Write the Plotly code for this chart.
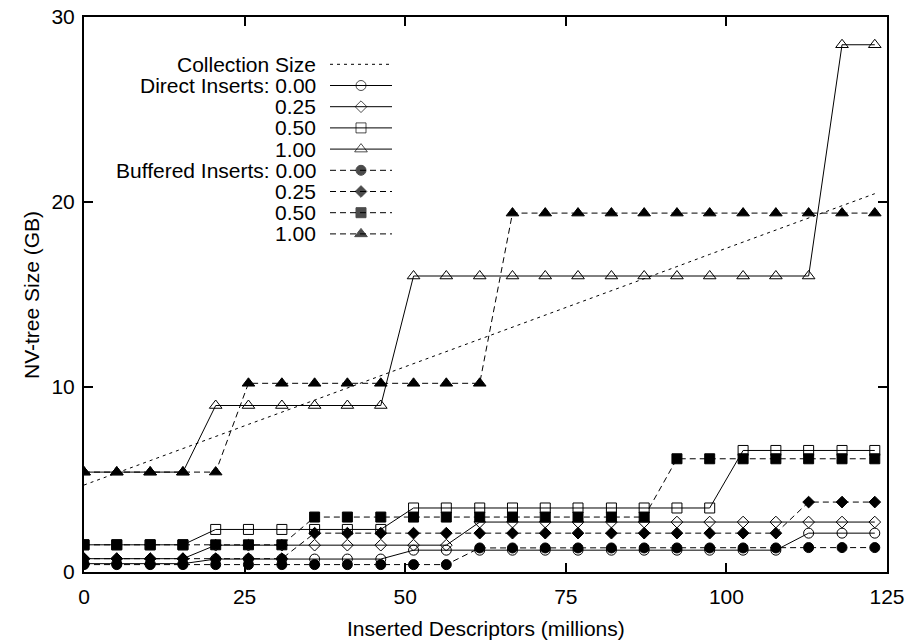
import plotly.graph_objects as go

# ---------------- data ----------------
descriptors_millions = [0, 5.1, 10.3, 15.4, 20.5, 25.6, 30.8, 35.9, 41.0, 46.2, 51.3, 56.4,
                        61.6, 66.7, 71.8, 76.9, 82.1, 87.2, 92.3, 97.4, 102.6, 107.7, 112.8,
                        118.0, 123.1]

collection_size = [4.70, 5.36, 6.01, 6.67, 7.33, 7.98, 8.64, 9.29, 9.95, 10.61, 11.26, 11.92,
                   12.58, 13.23, 13.89, 14.54, 15.20, 15.86, 16.51, 17.17, 17.83, 18.48,
                   19.14, 19.79, 20.45]

direct_000 = [0.45, 0.45, 0.45, 0.45, 0.70, 0.70, 0.70, 0.70, 0.70, 0.70, 1.18, 1.18, 1.18,
              1.18, 1.18, 1.18, 1.18, 1.18, 1.18, 1.18, 1.18, 1.18, 2.10, 2.10, 2.10]
direct_025 = [0.72, 0.72, 0.72, 0.72, 1.45, 1.45, 1.45, 1.45, 1.45, 1.45, 1.45, 1.45, 2.70,
              2.70, 2.70, 2.70, 2.70, 2.70, 2.70, 2.70, 2.70, 2.70, 2.70, 2.70, 2.70]
direct_050 = [1.47, 1.47, 1.47, 1.47, 2.30, 2.30, 2.30, 2.30, 2.30, 2.30, 3.46, 3.46, 3.46,
              3.46, 3.46, 3.46, 3.46, 3.46, 3.46, 3.46, 6.57, 6.57, 6.57, 6.57, 6.57]
direct_100 = [5.40, 5.40, 5.40, 5.40, 9.00, 9.00, 9.00, 9.00, 9.00, 9.00, 16.0, 16.0, 16.0,
              16.0, 16.0, 16.0, 16.0, 16.0, 16.0, 16.0, 16.0, 16.0, 16.0, 28.5, 28.5]

buffered_000 = [0.40, 0.40, 0.40, 0.40, 0.40, 0.40, 0.40, 0.40, 0.40, 0.40, 0.40, 0.40, 1.30,
                1.30, 1.30, 1.30, 1.30, 1.30, 1.30, 1.30, 1.30, 1.30, 1.32, 1.32, 1.32]
buffered_025 = [0.72, 0.72, 0.72, 0.72, 0.72, 0.72, 0.72, 2.10, 2.10, 2.10, 2.10, 2.10, 2.10,
                2.10, 2.10, 2.10, 2.10, 2.10, 2.10, 2.10, 2.10, 2.10, 3.78, 3.78, 3.78]
buffered_050 = [1.47, 1.47, 1.47, 1.47, 1.47, 1.47, 1.47, 2.97, 2.97, 2.97, 2.97, 2.97, 2.97,
                2.97, 2.97, 2.97, 2.97, 2.97, 6.12, 6.12, 6.12, 6.12, 6.12, 6.12, 6.12]
buffered_100 = [5.40, 5.40, 5.40, 5.40, 5.40, 10.2, 10.2, 10.2, 10.2, 10.2, 10.2, 10.2, 10.2,
                19.4, 19.4, 19.4, 19.4, 19.4, 19.4, 19.4, 19.4, 19.4, 19.4, 19.4, 19.4]

x_ticks = [0, 25, 50, 75, 100, 125]
y_ticks = [0, 10, 20, 30]

legend_labels = ["Collection Size", "Direct Inserts: 0.00", "0.25", "0.50", "1.00",
                 "Buffered Inserts: 0.00", "0.25", "0.50", "1.00"]

x_title = "Inserted Descriptors (millions)"
y_title = "NV-tree Size (GB)"

# ---------------- styles ----------------
FONT = "Liberation Sans, Arial, Helvetica, sans-serif"
FS = 21
DASH = "6px,4px"
DOT = "3px,4px"

series = [
    (collection_size, None, "dot"),
    (direct_000, "circle-open", "solid"),
    (direct_025, "diamond-open", "solid"),
    (direct_050, "square-open", "solid"),
    (direct_100, "triangle-up-open", "solid"),
    (buffered_000, "circle", "dash"),
    (buffered_025, "diamond", "dash"),
    (buffered_050, "square", "dash"),
    (buffered_100, "triangle-up", "dash"),
]
sizes = {"circle": 10, "diamond": 9, "square": 10, "triangle-up": 11}

fig = go.Figure()

for vals, sym, style in series:
    if sym is None:
        fig.add_trace(go.Scatter(x=descriptors_millions, y=vals, mode="lines",
                                 line=dict(color="black", width=1, dash=DOT),
                                 showlegend=False, hoverinfo="skip"))
    else:
        base = sym.replace("-open", "")
        fig.add_trace(go.Scatter(
            x=descriptors_millions, y=vals, mode="lines+markers",
            line=dict(color="black", width=1, dash=("solid" if style == "solid" else DASH)),
            marker=dict(symbol=sym, size=sizes[base], color="black",
                        line=dict(color="black", width=1)),
            showlegend=False, hoverinfo="skip"))

# ---------------- legend (gnuplot style: right aligned text, sample on right) ----------------
plot_left, plot_right = 84, 887
plot_top, plot_bottom = 17, 572
pw = plot_right - plot_left
ph = plot_bottom - plot_top

def px_to_paper_x(px):
    return (px - plot_left) / pw

def py_to_paper_y(py):
    return (plot_bottom - py) / ph

text_right = px_to_paper_x(318)
s_left = px_to_paper_x(330)
s_mid = px_to_paper_x(361)
s_right = px_to_paper_x(392)

for k, ((vals, sym, style), label) in enumerate(zip(series, legend_labels)):
    yrow = py_to_paper_y(64.3 + 21.2 * k)
    fig.add_annotation(x=text_right, y=yrow, xref="x2", yref="y2", text=label,
                       showarrow=False, xanchor="right", yanchor="middle",
                       font=dict(family=FONT, size=FS, color="black"))
    if sym is None:
        fig.add_trace(go.Scatter(x=[s_left, s_right], y=[yrow, yrow], mode="lines",
                                 line=dict(color="black", width=1, dash=DOT),
                                 xaxis="x2", yaxis="y2", showlegend=False, hoverinfo="skip"))
    else:
        base = sym.replace("-open", "")
        fig.add_trace(go.Scatter(
            x=[s_left, s_mid, s_right], y=[yrow, yrow, yrow], mode="lines+markers",
            line=dict(color="black", width=1, dash=("solid" if style == "solid" else DASH)),
            marker=dict(symbol=sym, size=[0, sizes[base], 0], color="black",
                        line=dict(color="black", width=1)),
            xaxis="x2", yaxis="y2", showlegend=False, hoverinfo="skip"))

# axis titles
fig.add_annotation(x=px_to_paper_x(486), y=py_to_paper_y(628), xref="paper", yref="paper",
                   text=x_title, showarrow=False, xanchor="center", yanchor="middle",
                   font=dict(family=FONT, size=FS, color="black"))
fig.add_annotation(x=px_to_paper_x(31), y=py_to_paper_y(295), xref="paper", yref="paper",
                   text=y_title, textangle=-90, showarrow=False,
                   xanchor="center", yanchor="middle",
                   font=dict(family=FONT, size=FS, color="black"))

axis_common = dict(showgrid=False, zeroline=False, showline=True, linecolor="black",
                   linewidth=2, ticks="inside", ticklen=9, tickwidth=1.5, tickcolor="black",
                   mirror="ticks", automargin=False,
                   tickfont=dict(family=FONT, size=FS, color="black"))

fig.update_layout(
    width=906, height=641,
    margin=dict(l=plot_left, r=906 - plot_right, t=plot_top, b=641 - plot_bottom),
    paper_bgcolor="white", plot_bgcolor="white",
    xaxis=dict(range=[0, 125], tickvals=x_ticks, ticklabelstandoff=5, **axis_common),
    yaxis=dict(range=[0, 30], tickvals=y_ticks, ticklabelstandoff=3, **axis_common),
    xaxis2=dict(range=[0, 1], overlaying="x", visible=False, fixedrange=True),
    yaxis2=dict(range=[0, 1], overlaying="y", visible=False, fixedrange=True),
    showlegend=False,
    font=dict(family=FONT, size=FS, color="black"),
)

fig.write_html("out.html")
